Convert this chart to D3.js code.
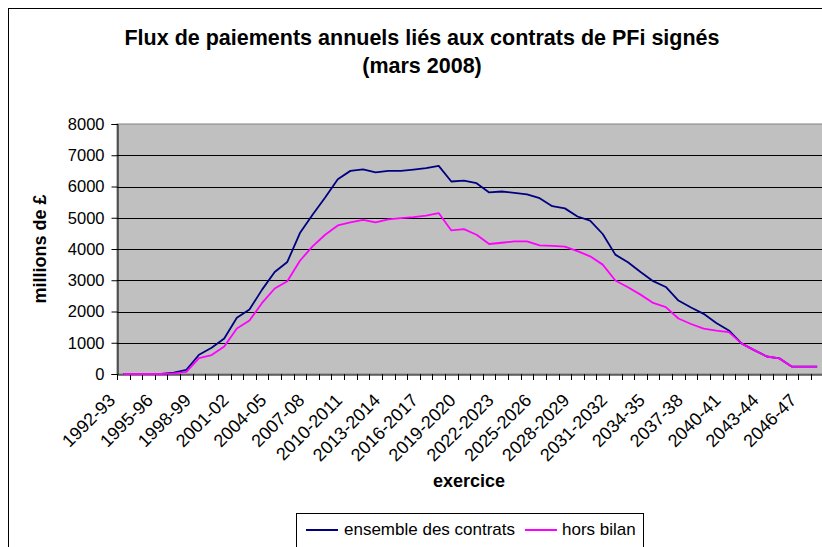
<!DOCTYPE html>
<html><head><meta charset="utf-8">
<script src="https://cdn.jsdelivr.net/npm/d3@7"></script>
<style>body{margin:0;background:#fff;} svg{display:block;font-family:Arial,"Liberation Sans",sans-serif;}</style>
</head><body><svg id="c" width="822" height="547"></svg>
<script>
const categories = ["1992-93","1993-94","1994-95","1995-96","1996-97","1997-98","1998-99","1999-00","2000-01","2001-02",
"2002-03","2003-04","2004-05","2005-06","2006-07","2007-08","2008-09","2009-10","2010-2011","2011-2012",
"2012-2013","2013-2014","2014-2015","2015-2016","2016-2017","2017-2018","2018-2019","2019-2020","2020-2021","2021-2022",
"2022-2023","2023-2024","2024-2025","2025-2026","2026-2027","2027-2028","2028-2029","2029-2030","2030-2031","2031-2032",
"2032-2033","2033-34","2034-35","2035-36","2036-37","2037-38","2038-39","2039-40","2040-41","2041-42",
"2042-43","2043-44","2044-45","2045-46","2046-47","2047-48"];
const ensemble = [0,0,0,0,40,130,615,840,1135,1800,
2065,2700,3265,3585,4510,5095,5650,6235,6500,6550,
6455,6500,6500,6540,6585,6660,6160,6190,6105,5810,
5840,5795,5745,5625,5370,5300,5040,4905,4480,3820,
3575,3265,2970,2785,2350,2130,1925,1635,1395,980,
765,560,500,235,235,235];
const horsBilan = [0,0,0,0,20,70,510,605,880,1455,
1710,2275,2735,2970,3625,4085,4455,4755,4850,4935,
4850,4945,4990,5020,5065,5150,4595,4635,4455,4160,
4200,4245,4245,4115,4100,4075,3930,3765,3500,2990,
2775,2540,2275,2140,1775,1600,1455,1390,1340,980,
765,560,500,235,235,235];
const yTicks = [0,1000,2000,3000,4000,5000,6000,7000,8000];
const titleLines = ["Flux de paiements annuels liés aux contrats de PFi signés","(mars 2008)"];
const yTitle = "millions de £";
const xTitle = "exercice";
const seriesNames = ["ensemble des contrats","hors bilan"];
const seriesColors = ["#000080","#FF00FF"];

const svg = d3.select("#c");
const W = 822, H = 547;
svg.append("rect").attr("width",W).attr("height",H).attr("fill","#fff");
svg.append("rect").attr("x",8.5).attr("y",8.5).attr("width",840).attr("height",600)
  .attr("fill","none").attr("stroke","#000");

const m = {left:117, right:823.5, top:124, bottom:374};
const x = d3.scaleBand().domain(categories).range([m.left,m.right]).padding(0);
const y = d3.scaleLinear().domain([0,8000]).range([m.bottom,m.top]);
const cx = c => x(c) + x.bandwidth()/2;

svg.append("rect").attr("x",m.left).attr("y",m.top).attr("width",m.right-m.left)
  .attr("height",m.bottom-m.top).attr("fill","#C0C0C0").attr("stroke","#808080");

svg.append("g").selectAll("line").data(yTicks.slice(1,-1)).join("line")
  .attr("x1",m.left).attr("x2",m.right)
  .attr("y1",d=>Math.round(y(d))+0.5).attr("y2",d=>Math.round(y(d))+0.5)
  .attr("stroke","#000").attr("stroke-width",1);

// Y axis
const yAxis = svg.append("g").attr("transform",`translate(${m.left+0.5},0)`)
  .call(d3.axisLeft(y).tickValues(yTicks).tickFormat(d3.format("d")).tickSize(6).tickPadding(7));
yAxis.select(".domain").attr("stroke","#000");
yAxis.selectAll("text").attr("font-size",16.5).attr("fill","#000").attr("font-family","Arial, 'Liberation Sans', sans-serif");

// X axis
const xAxis = svg.append("g").attr("transform",`translate(0,${m.bottom+0.5})`)
  .call(d3.axisBottom(x).tickSize(0).tickFormat((d,i)=> i%3===0 ? d : ""));
xAxis.select(".domain").attr("stroke","#000");
xAxis.selectAll("text").attr("font-size",18).attr("fill","#000")
  .attr("font-family","Arial, 'Liberation Sans', sans-serif")
  .attr("text-anchor","end").attr("dy",0).attr("y",0)
  .attr("transform","translate(-7,27) rotate(-45)");
const bounds = categories.map(c=>x(c)).concat([m.right]);
svg.append("g").selectAll("line").data(bounds).join("line")
  .attr("x1",d=>Math.round(d)+0.5).attr("x2",d=>Math.round(d)+0.5)
  .attr("y1",m.bottom).attr("y2",m.bottom+6).attr("stroke","#000");

// lines
const line = d3.line().x((d,i)=>cx(categories[i])).y(d=>y(d));
[ensemble,horsBilan].forEach((s,k)=>{
  svg.append("path").datum(s).attr("d",line).attr("fill","none")
    .attr("stroke",seriesColors[k]).attr("stroke-width",1.8).attr("stroke-linejoin","round");
});

// titles
svg.append("g").selectAll("text").data(titleLines).join("text")
  .attr("x",422).attr("y",(d,i)=>45+i*28).attr("text-anchor","middle")
  .attr("font-size",21.5).attr("font-weight","bold").text(d=>d);
svg.append("text").attr("transform",`translate(46,249) rotate(-90)`)
  .attr("text-anchor","middle").attr("font-size",18).attr("font-weight","bold").text(yTitle);
svg.append("text").attr("x",469).attr("y",487).attr("text-anchor","middle")
  .attr("font-size",18).attr("font-weight","bold").text(xTitle);

// legend
const lg = svg.append("g");
lg.append("rect").attr("x",296.5).attr("y",513.5).attr("width",347).attr("height",40)
  .attr("fill","#fff").attr("stroke","#000");
const legX = [[306,344],[525,562]];
seriesNames.forEach((n,k)=>{
  lg.append("line").attr("x1",legX[k][0]).attr("x2",legX[k][0]+32).attr("y1",530).attr("y2",530)
    .attr("stroke",seriesColors[k]).attr("stroke-width",2);
  lg.append("text").attr("x",legX[k][1]).attr("y",535).attr("font-size",17).text(n);
});
</script></body></html>
